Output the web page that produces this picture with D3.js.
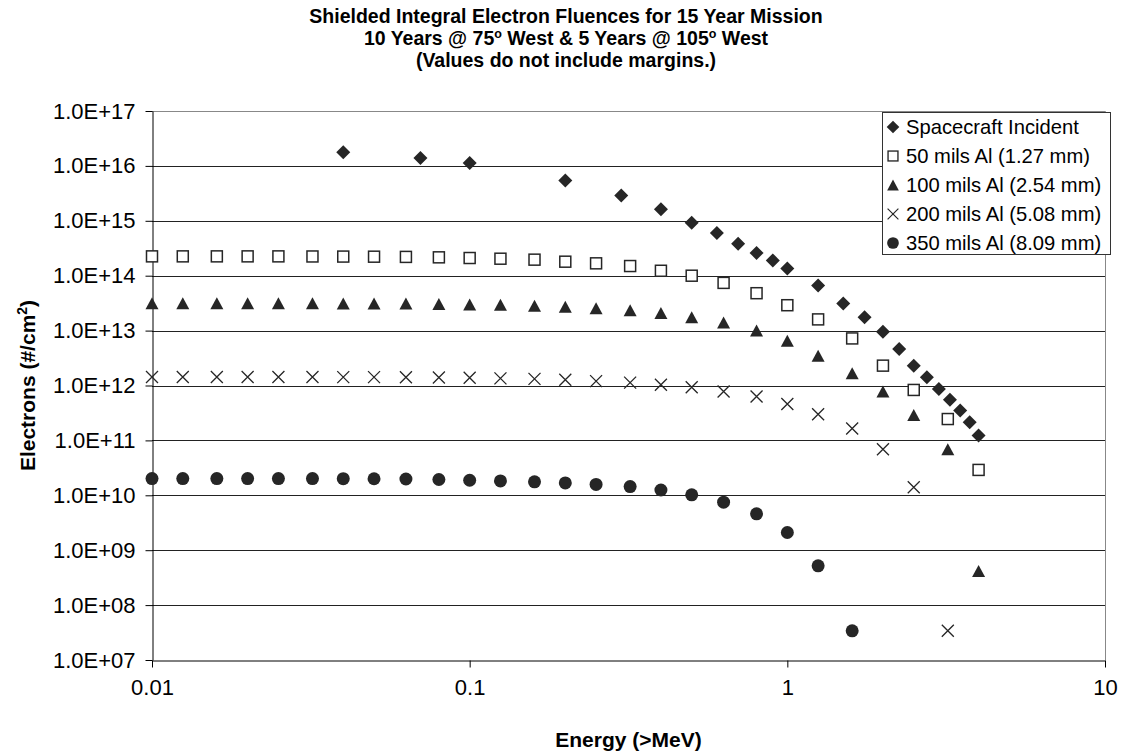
<!DOCTYPE html>
<html><head><meta charset="utf-8">
<script src="https://cdn.jsdelivr.net/npm/d3@7"></script>
<style>body{margin:0;background:#fff}svg{display:block;font-family:Arial,"Liberation Sans",sans-serif}</style>
</head><body><svg id="c" width="1123" height="755"></svg>
<script>
// ---- data ----
const incidentEnergy = [0.04,0.07,0.1,0.2,0.3,0.4,0.5,0.6,0.7,0.8,0.9,1.0,1.25,1.5,1.75,2.0,2.25,2.5,2.75,3.0,3.25,3.5,3.75,4.0];
const incident = [1.77e16,1.4e16,1.13e16,5.4e15,2.9e15,1.63e15,9.2e14,5.97e14,3.8e14,2.6e14,1.9e14,1.35e14,6.6e13,3.1e13,1.75e13,9.5e12,4.6e12,2.3e12,1.42e12,8.6e11,5.5e11,3.5e11,2.15e11,1.23e11];
const shieldEnergy = [0.01,0.0125,0.016,0.02,0.025,0.032,0.04,0.05,0.063,0.08,0.1,0.125,0.16,0.2,0.25,0.32,0.4,0.5,0.63,0.8,1.0,1.25,1.6,2.0,2.5,3.2,4.0];
const mils50  = [2.25e14,2.25e14,2.25e14,2.25e14,2.25e14,2.24e14,2.23e14,2.22e14,2.2e14,2.16e14,2.1e14,2.04e14,1.96e14,1.8e14,1.68e14,1.5e14,1.23e14,1.0e14,7.4e13,4.8e13,2.9e13,1.6e13,7.2e12,2.3e12,8.3e11,2.45e11,2.9e10];
const mils100 = [3.15e13,3.15e13,3.15e13,3.15e13,3.15e13,3.14e13,3.13e13,3.12e13,3.1e13,3.05e13,3.0e13,2.95e13,2.85e13,2.73e13,2.55e13,2.34e13,2.1e13,1.75e13,1.4e13,1.0e13,6.5e12,3.5e12,1.68e12,7.8e11,2.9e11,6.9e10,4.2e8];
const mils200 = [1.43e12,1.43e12,1.43e12,1.43e12,1.43e12,1.43e12,1.42e12,1.42e12,1.41e12,1.4e12,1.38e12,1.35e12,1.32e12,1.27e12,1.2e12,1.13e12,1.03e12,9.3e11,7.8e11,6.3e11,4.6e11,3.0e11,1.65e11,6.9e10,1.4e10,3.4e7,null];
const mils350 = [2.02e10,2.02e10,2.02e10,2.02e10,2.02e10,2.02e10,2.01e10,2.0e10,1.98e10,1.94e10,1.88e10,1.83e10,1.76e10,1.68e10,1.58e10,1.44e10,1.25e10,1.02e10,7.5e9,4.6e9,2.1e9,5.2e8,3.4e7,null,null,null,null];
const seriesNames = ["Spacecraft Incident","50 mils Al (1.27 mm)","100 mils Al (2.54 mm)","200 mils Al (5.08 mm)","350 mils Al (8.09 mm)"];
const xTicks = [0.01,0.1,1,10];
const xTickLabels = ["0.01","0.1","1","10"];
const yTicks = [1e7,1e8,1e9,1e10,1e11,1e12,1e13,1e14,1e15,1e16,1e17];
const yTickLabels = ["1.0E+07","1.0E+08","1.0E+09","1.0E+10","1.0E+11","1.0E+12","1.0E+13","1.0E+14","1.0E+15","1.0E+16","1.0E+17"];

// ---- chart ----
const svg = d3.select("#c");
const L=152, R=1105, T=111, B=660;
const x = d3.scaleLog().domain([0.01,10]).range([L,R]);
const y = d3.scaleLog().domain([1e7,1e17]).range([B,T]);
const ink = "#262626";

// title
const TX = 566;
const title = svg.append("g").attr("font-weight","bold").attr("font-size",19.5).attr("text-anchor","middle").attr("fill","#000");
title.append("text").attr("x",TX).attr("y",22.5).text("Shielded Integral Electron Fluences for 15 Year Mission");
const t2 = title.append("text").attr("x",TX).attr("y",44.5);
t2.append("tspan").text("10 Years @ 75");
t2.append("tspan").attr("dy",-7).attr("font-size",12.5).text("o");
t2.append("tspan").attr("dy",7).text(" West & 5 Years @ 105");
t2.append("tspan").attr("dy",-7).attr("font-size",12.5).text("o");
t2.append("tspan").attr("dy",7).text(" West");
title.append("text").attr("x",TX).attr("y",66.5).text("(Values do not include margins.)");

// gridlines
svg.append("g").selectAll("line").data(yTicks.slice(1,-1)).join("line")
  .attr("x1",L).attr("x2",R).attr("y1",d=>Math.round(y(d))+0.5).attr("y2",d=>Math.round(y(d))+0.5)
  .attr("stroke","#222").attr("stroke-width",1);
// plot border top/right
svg.append("path").attr("d",`M${L},${T+0.5}H${R+0.5}V${B}`).attr("fill","none").attr("stroke","#888").attr("stroke-width",1);

// axes
const xAxis = svg.append("g").attr("transform",`translate(0,${B+0.5})`)
  .call(d3.axisBottom(x).tickValues(xTicks).tickFormat((d,i)=>xTickLabels[i]).tickSize(7).tickSizeOuter(0).tickPadding(12));
const yAxis = svg.append("g").attr("transform",`translate(${L+0.5},0)`)
  .call(d3.axisLeft(y).tickValues(yTicks).tickFormat((d,i)=>yTickLabels[i]).tickSize(7).tickSizeOuter(0).tickPadding(10));
[xAxis,yAxis].forEach(a=>{
  a.selectAll("text").attr("font-size",22).attr("fill","#000").attr("font-family","Arial, 'Liberation Sans', sans-serif");
  a.selectAll("line").attr("stroke","#000");
  a.select(".domain").attr("stroke","#000");
});

// axis titles
svg.append("text").attr("x",(L+R)/2).attr("y",747).attr("text-anchor","middle").attr("font-weight","bold").attr("font-size",21).text("Energy (>MeV)");
const yt = svg.append("text").attr("transform",`translate(35,${(T+B)/2}) rotate(-90)`).attr("text-anchor","middle").attr("font-weight","bold").attr("font-size",21);
yt.append("tspan").text("Electrons (#/cm");
yt.append("tspan").attr("dy",-8).attr("font-size",14).text("2");
yt.append("tspan").attr("dy",8).text(")");

// marker shapes
const shapes = [
  g=>g.append("path").attr("d","M0,-7L7,0L0,7L-7,0Z").attr("fill",ink),
  g=>g.append("rect").attr("x",-5.5).attr("y",-5.5).attr("width",11).attr("height",11).attr("fill","#fff").attr("stroke",ink).attr("stroke-width",1.5),
  g=>g.append("path").attr("d","M0,-6L6.5,6L-6.5,6Z").attr("fill",ink),
  g=>g.append("path").attr("d","M-6,-6L6,6M6,-6L-6,6").attr("fill","none").attr("stroke",ink).attr("stroke-width",1.3),
  g=>g.append("circle").attr("r",6.5).attr("fill",ink)
];
const allSeries = [
  incidentEnergy.map((e,i)=>[e,incident[i]]),
  shieldEnergy.map((e,i)=>[e,mils50[i]]),
  shieldEnergy.map((e,i)=>[e,mils100[i]]),
  shieldEnergy.map((e,i)=>[e,mils200[i]]),
  shieldEnergy.map((e,i)=>[e,mils350[i]])
];
allSeries.forEach((s,k)=>{
  const g = svg.append("g");
  s.filter(d=>d[1]!=null && d[1]>=1e7).forEach(d=>{
    const m = g.append("g").attr("transform",`translate(${x(d[0])},${y(d[1])})`);
    shapes[k](m);
  });
});

// legend
const lg = svg.append("g");
lg.append("rect").attr("x",882.5).attr("y",112.5).attr("width",228).attr("height",142).attr("fill","#fff").attr("stroke","#333");
seriesNames.forEach((n,i)=>{
  const cy = 127 + i*29;
  const m = lg.append("g").attr("transform",`translate(893,${cy}) scale(0.9)`);
  shapes[i](m);
  lg.append("text").attr("x",906).attr("y",cy+7).attr("font-size",20.2).attr("fill","#000").text(n);
});
</script></body></html>
